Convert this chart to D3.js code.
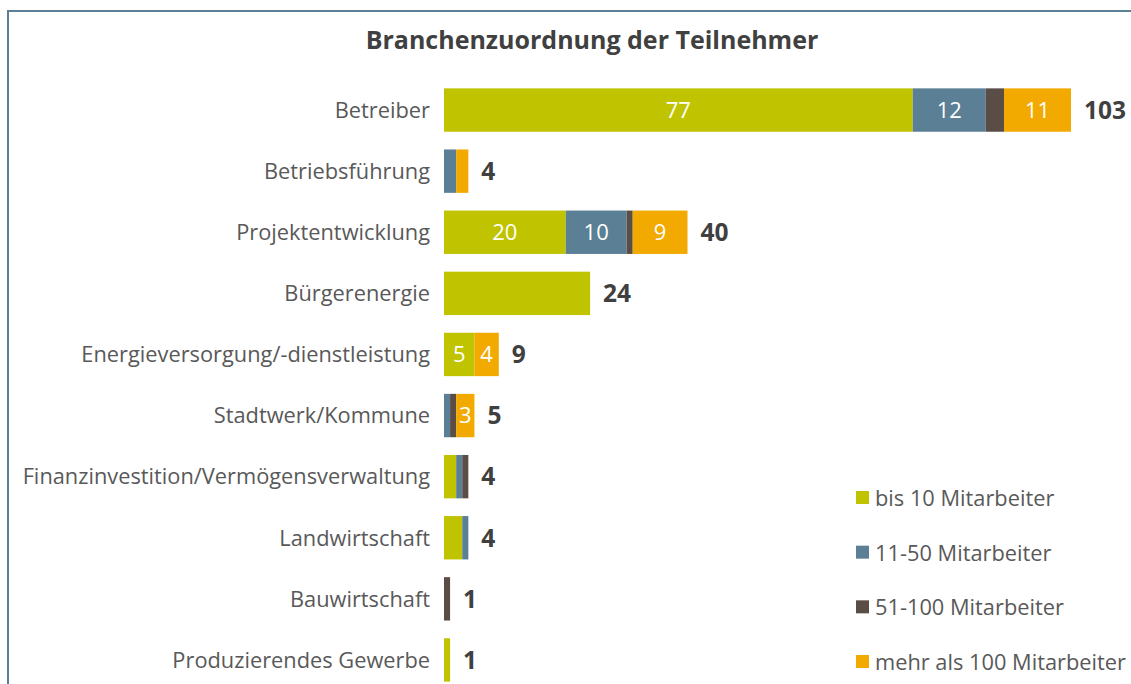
<!DOCTYPE html>
<html>
<head>
<meta charset="utf-8">
<script src="https://cdn.jsdelivr.net/npm/d3@7"></script>
<style>
  body { margin: 0; background: #fff; }
  svg { display: block; font-family: "Open Sans", "Noto Sans", sans-serif; }
</style>
</head>
<body>
<div id="chart"></div>
<script>
// Branchen (top to bottom)
const categories = [
  "Betreiber", "Betriebsführung", "Projektentwicklung", "Bürgerenergie",
  "Energieversorgung/-dienstleistung", "Stadtwerk/Kommune",
  "Finanzinvestition/Vermögensverwaltung", "Landwirtschaft",
  "Bauwirtschaft", "Produzierendes Gewerbe"
];
const seriesNames = ["bis 10 Mitarbeiter", "11-50 Mitarbeiter", "51-100 Mitarbeiter", "mehr als 100 Mitarbeiter"];
const bis10    = [77, 0, 20, 24, 5, 0, 2, 3, 0, 1];
const bis50    = [12, 2, 10, 0, 0, 1, 1, 1, 0, 0];
const bis100   = [3, 0, 1, 0, 0, 1, 1, 0, 1, 0];
const ueber100 = [11, 2, 9, 0, 4, 3, 0, 0, 0, 0];
// segment labels that the original shows ("row|series")
const shownLabels = ["0|0", "0|1", "0|3", "2|0", "2|1", "2|3", "4|0", "4|3", "5|3"];

const colors = ["#bfc300", "#5b7f95", "#5a4d45", "#f2a900"];

const W = 1131, H = 684;
const svg = d3.select("#chart").append("svg").attr("width", W).attr("height", H);

// frame
svg.append("path")
  .attr("d", `M8,${H} V11 H${W}`)
  .attr("fill", "none").attr("stroke", "#5b7f95").attr("stroke-width", 2);

svg.append("text")
  .attr("x", 592).attr("y", 49)
  .attr("text-anchor", "middle")
  .attr("font-size", 25).attr("font-weight", "bold").attr("fill", "#404040")
  .text("Branchenzuordnung der Teilnehmer");

const rows = categories.map((c, i) => {
  const vals = [bis10[i], bis50[i], bis100[i], ueber100[i]];
  return { cat: c, i: i, vals: vals, total: d3.sum(vals) };
});

const x = d3.scaleLinear().domain([0, 103]).range([444, 1071]);
const y = d3.scaleBand().domain(categories).range([79.5, 690.5]).paddingInner(0.29).paddingOuter(0.145);

const stack = d3.stack().keys([0, 1, 2, 3]).value((d, k) => d.vals[k]);
const layers = stack(rows);

const g = svg.append("g");
layers.forEach((layer, k) => {
  const segs = g.selectAll(null).data(layer.filter(d => d[1] > d[0]))
    .enter().append("g");
  segs.append("rect")
    .attr("x", d => x(d[0]))
    .attr("y", d => y(d.data.cat))
    .attr("width", d => x(d[1]) - x(d[0]))
    .attr("height", y.bandwidth())
    .attr("fill", colors[k]);
  segs.filter(d => shownLabels.includes(d.data.i + "|" + k))
    .append("text")
    .attr("x", d => (x(d[0]) + x(d[1])) / 2)
    .attr("y", d => y(d.data.cat) + y.bandwidth() / 2)
    .attr("dy", "0.36em")
    .attr("text-anchor", "middle")
    .attr("font-size", 22).attr("fill", "#fff")
    .text(d => d[1] - d[0]);
});

// category labels
svg.selectAll("text.cat").data(rows).enter().append("text")
  .attr("class", "cat")
  .attr("x", 430)
  .attr("y", d => y(d.cat) + y.bandwidth() / 2)
  .attr("dy", "0.36em")
  .attr("text-anchor", "end")
  .attr("font-size", 21.8).attr("fill", "#595959")
  .text(d => d.cat);

// totals
svg.selectAll("text.total").data(rows).enter().append("text")
  .attr("class", "total")
  .attr("x", d => x(d.total) + 13)
  .attr("y", d => y(d.cat) + y.bandwidth() / 2)
  .attr("dy", "0.36em")
  .attr("font-size", 24.5).attr("font-weight", "bold").attr("fill", "#404040")
  .text(d => d.total);

// legend
const ly = d3.scalePoint().domain(seriesNames).range([498, 662]);
const leg = svg.selectAll("g.leg").data(seriesNames).enter().append("g")
  .attr("transform", d => `translate(856,${ly(d)})`);
leg.append("rect").attr("x", 0).attr("y", -7).attr("width", 13).attr("height", 13)
  .attr("fill", (d, k) => colors[k]);
leg.append("text").attr("x", 19).attr("dy", "0.36em")
  .attr("font-size", 21.8).attr("fill", "#595959")
  .text(d => d);
</script>
</body>
</html>
